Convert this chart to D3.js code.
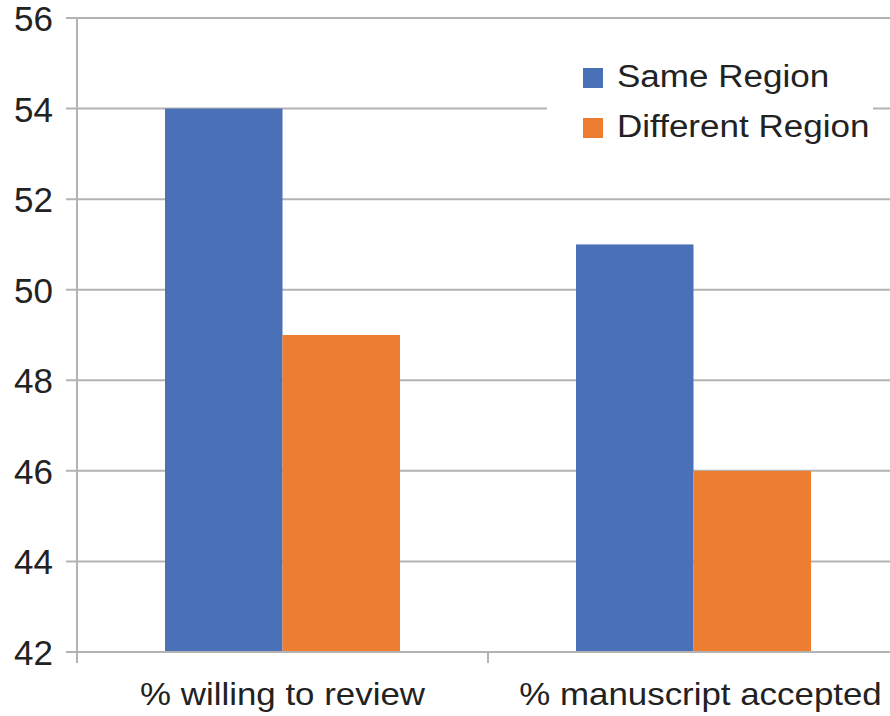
<!DOCTYPE html>
<html>
<head>
<meta charset="utf-8">
<script src="https://cdn.jsdelivr.net/npm/d3@7"></script>
<style>
  html, body { margin: 0; padding: 0; background: #fff; }
  svg { display: block; font-family: "Liberation Sans", Arial, Helvetica, sans-serif; }
</style>
</head>
<body>
<svg id="chart" width="890" height="716"></svg>
<script>
// Chart data
const categories = ["% willing to review", "% manuscript accepted"];
const seriesNames = ["Same Region", "Different Region"];
const sameRegion = [54, 51];
const differentRegion = [49, 46];
const yTicks = [42, 44, 46, 48, 50, 52, 54, 56];

const colors = { "Same Region": "#4a71b8", "Different Region": "#ed7d31" };
const gridColor = "#b3b3b3";
const textColor = "#222";

const svg = d3.select("#chart");
const plotLeft = 77, plotRight = 899, plotTop = 18, plotBottom = 652;

const y = d3.scaleLinear().domain([42, 56]).range([plotBottom, plotTop]);
const x = d3.scaleBand().domain(categories).range([plotLeft, plotRight]).paddingInner(0).paddingOuter(0);
const groupW = 235;
const xs = d3.scaleBand().domain(seriesNames).range([0, groupW]);

// Horizontal gridlines with left tick stubs
svg.append("g").selectAll("line").data(yTicks).join("line")
  .attr("x1", 66).attr("x2", 890)
  .attr("y1", d => y(d)).attr("y2", d => y(d))
  .attr("stroke", gridColor).attr("stroke-width", 2);

// Y tick labels
svg.append("g").selectAll("text").data(yTicks).join("text")
  .attr("x", 53).attr("y", d => y(d) + 13)
  .attr("text-anchor", "end")
  .attr("font-size", 35)
  .attr("fill", textColor)
  .text(d => d);

// Bars
const rows = categories.map((c, i) => ({ cat: c, values: [
  { name: "Same Region", v: sameRegion[i] },
  { name: "Different Region", v: differentRegion[i] }
]}));

const groups = svg.append("g").selectAll("g").data(rows).join("g")
  .attr("transform", d => `translate(${x(d.cat) + (x.bandwidth() - groupW) / 2},0)`);
groups.selectAll("rect").data(d => d.values).join("rect")
  .attr("x", d => xs(d.name))
  .attr("width", xs.bandwidth())
  .attr("y", d => y(d.v))
  .attr("height", d => y(42) - y(d.v))
  .attr("fill", d => colors[d.name]);

// Axis lines
svg.append("line")
  .attr("x1", plotLeft).attr("x2", plotLeft).attr("y1", plotTop).attr("y2", plotBottom + 11)
  .attr("stroke", gridColor).attr("stroke-width", 2);
svg.append("line")
  .attr("x1", plotLeft).attr("x2", 890).attr("y1", plotBottom).attr("y2", plotBottom)
  .attr("stroke", gridColor).attr("stroke-width", 2);
// Category separator ticks
svg.append("g").selectAll("line").data(categories.slice(1)).join("line")
  .attr("x1", d => x(d)).attr("x2", d => x(d))
  .attr("y1", plotBottom).attr("y2", plotBottom + 11)
  .attr("stroke", gridColor).attr("stroke-width", 2);

// Category labels (slightly widened face)
svg.append("g").selectAll("text").data(categories).join("text")
  .attr("transform", (d, i) => `translate(${x(d) + x.bandwidth() / 2 + (i === 1 ? 7 : 0)},705) scale(1.09,1)`)
  .attr("text-anchor", "middle")
  .attr("font-size", 32)
  .attr("fill", textColor)
  .text(d => d);

// Legend
const legend = svg.append("g");
legend.append("rect")
  .attr("x", 547).attr("y", 52).attr("width", 326).attr("height", 100)
  .attr("fill", "#fff");
const items = legend.selectAll("g").data(seriesNames).join("g")
  .attr("transform", (d, i) => `translate(583,${68 + i * 50})`);
items.append("rect")
  .attr("width", 20).attr("height", 20)
  .attr("fill", d => colors[d]);
items.append("text")
  .attr("transform", "translate(34,19) scale(1.13,1)")
  .attr("font-size", 31)
  .attr("fill", textColor)
  .text(d => d);
</script>
</body>
</html>
